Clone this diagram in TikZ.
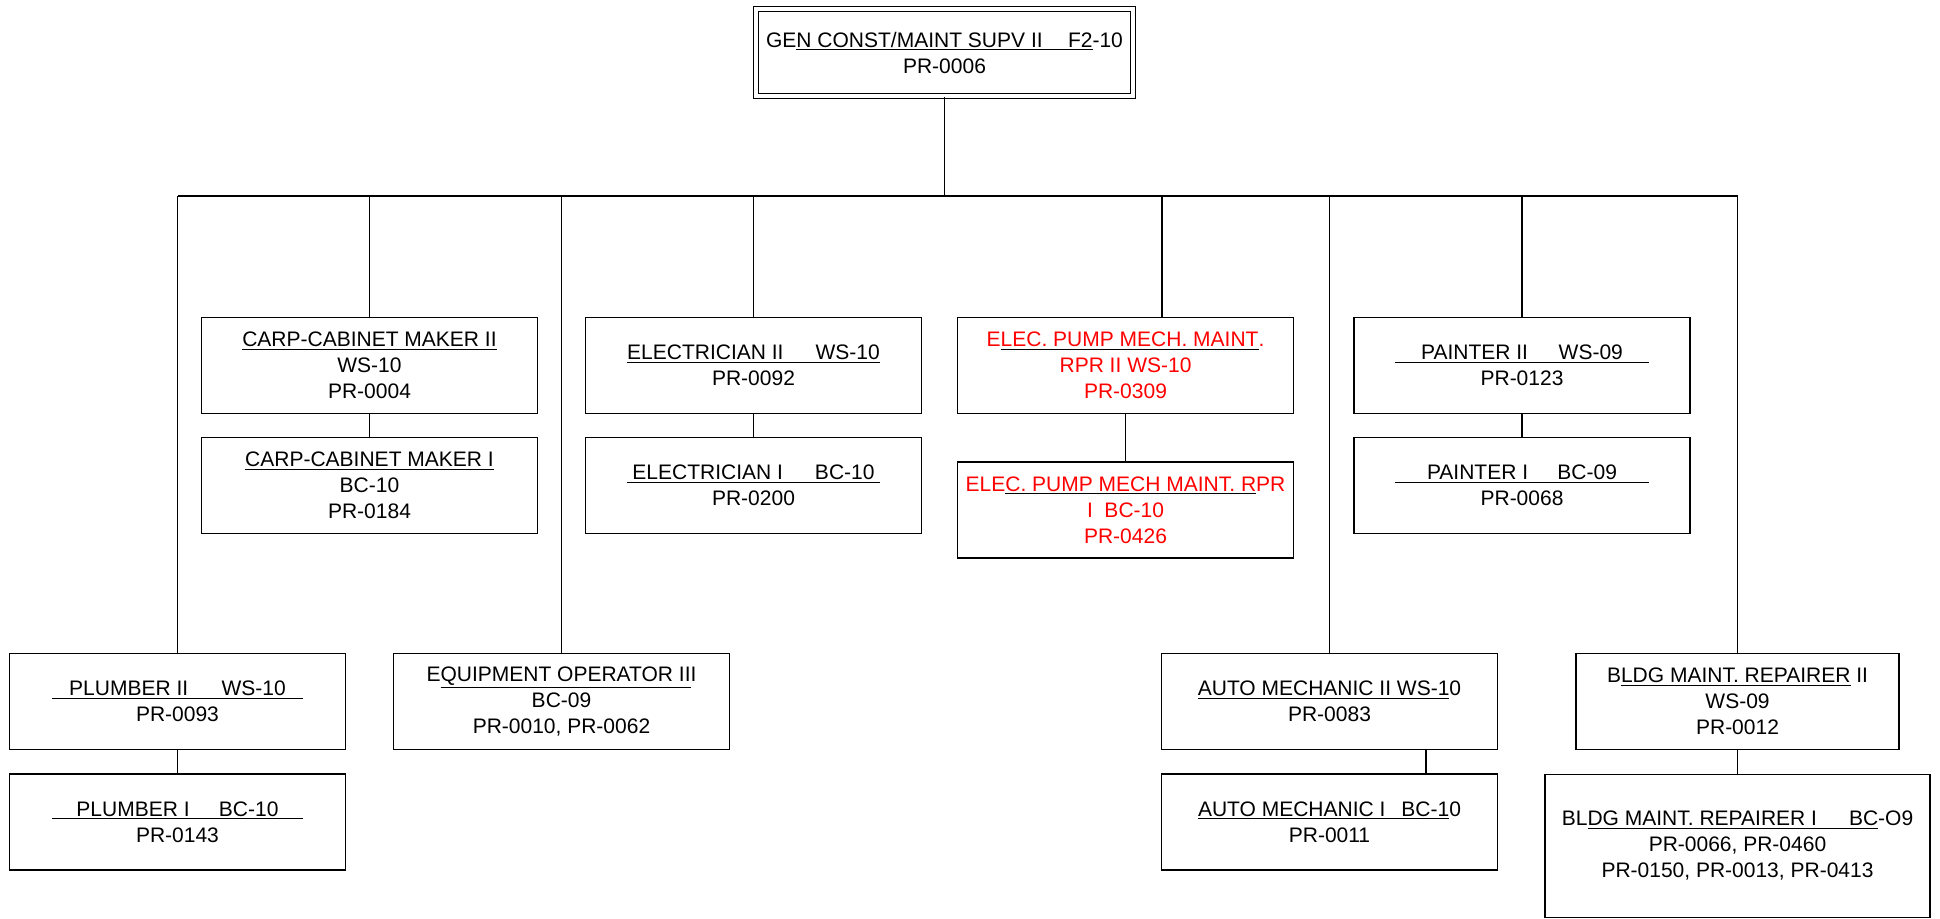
\documentclass[tikz,border=0pt]{standalone}
\usepackage{fontspec}
\setmainfont{Liberation Sans}
\usepackage{tikz}
\newcommand\ulbox[2]{\underline{\makebox[#1][c]{#2}}}
\newcommand\redul[1]{{\color{black}\underline{\color{red}#1}}}
\tikzset{
  post/.style={draw,line width=1.2pt,minimum width=252pt,minimum height=72pt,inner sep=0pt,align=center,font=\fontsize{15.75}{19.5}\selectfont},
  redpost/.style={post,text=red},
  link/.style={line width=1.2pt}
}
\begin{document}
\begin{tikzpicture}[x=0.75pt,y=-0.75pt]
        \useasboundingbox (0,0) rectangle (1940,919);
        \node[post,double,double distance=2.6pt,line width=1.1pt,minimum width=283pt,minimum height=65pt](top)at(944.5,52.5){GE\underline{N CONST/MAINT SUPV II\hspace{19pt}F2}-10\\PR-0006};
        \node[post](carp2)at(369.5,365.5){\underline{CARP-CABINET MAKER II}\\WS-10\\PR-0004};
        \node[post](carp1)at(369.5,485.5){\underline{CARP-CABINET MAKER I}\\BC-10\\PR-0184};
        \node[post](elec2)at(753.5,365.5){\underline{ELECTRICIAN II\hspace{24pt}WS-10}\\PR-0092};
        \node[post](elec1)at(753.5,485.5){\ulbox{190pt}{ELECTRICIAN I\hspace{24pt}BC-10}\\PR-0200};
        \node[redpost](pump2)at(1125.5,365.5){E\redul{LEC. PUMP MECH. MAINT}.\\RPR II WS-10\\PR-0309};
        \node[redpost](pump1)at(1125.5,510){ELE\redul{C. PUMP MECH MAINT. R}PR\\I~~BC-10\\PR-0426};
        \node[post](paint2)at(1522,365.5){\ulbox{190pt}{PAINTER II\hspace{23pt}WS-09}\\PR-0123};
        \node[post](paint1)at(1522,485.5){\ulbox{190pt}{PAINTER I\hspace{22pt}BC-09}\\PR-0068};
        \node[post](plumb2)at(177.5,701.5){\ulbox{188pt}{PLUMBER II\hspace{25pt}WS-10}\\PR-0093};
        \node[post](plumb1)at(177.5,822){\ulbox{188pt}{PLUMBER I\hspace{22pt}BC-10}\\PR-0143};
        \node[post](equip)at(561.5,701.5){E\underline{QUIPMENT OPERATOR II}I\\BC-09\\PR-0010, PR-0062};
        \node[post](auto2)at(1329.5,701.5){\underline{AUTO MECHANIC II WS-1}0\\PR-0083};
        \node[post](auto1)at(1329.5,822){\underline{AUTO MECHANIC I\hspace{12pt}BC-1}0\\PR-0011};
        \node[post,minimum width=242pt](bldg2)at(1737.5,701.5){B\underline{LDG MAINT. REPAIRER} II\\WS-09\\PR-0012};
        \node[post,minimum width=288.5pt,minimum height=107.5pt](bldg1)at(1737.5,846){BL\underline{DG MAINT. REPAIRER I\hspace{24pt}BC}-O9\\PR-0066, PR-0460\\PR-0150, PR-0013, PR-0413};
        \coordinate (hub) at (946,196);
        \draw[link](top.south)--(top.south |- hub);
        \draw[link](plumb2.north |- hub)--(bldg2.north |- hub);
        \foreach \n in {plumb2,carp2,equip,elec2,auto2,paint2,bldg2}
            \draw[link](\n.north)--(\n.north |- hub);
        \draw[link]([xshift=27.4pt]pump2.north)--([xshift=27.4pt]pump2.north |- hub);
        \foreach \a/\b in {plumb2/plumb1,carp2/carp1,elec2/elec1,pump2/pump1,paint2/paint1,bldg2/bldg1}
            \draw[link](\a.south)--(\b.north);
        \draw[link]([xshift=72.4pt]auto2.south)--([xshift=72.4pt]auto2.south |- auto1.north);
    \end{tikzpicture}
\end{document}
